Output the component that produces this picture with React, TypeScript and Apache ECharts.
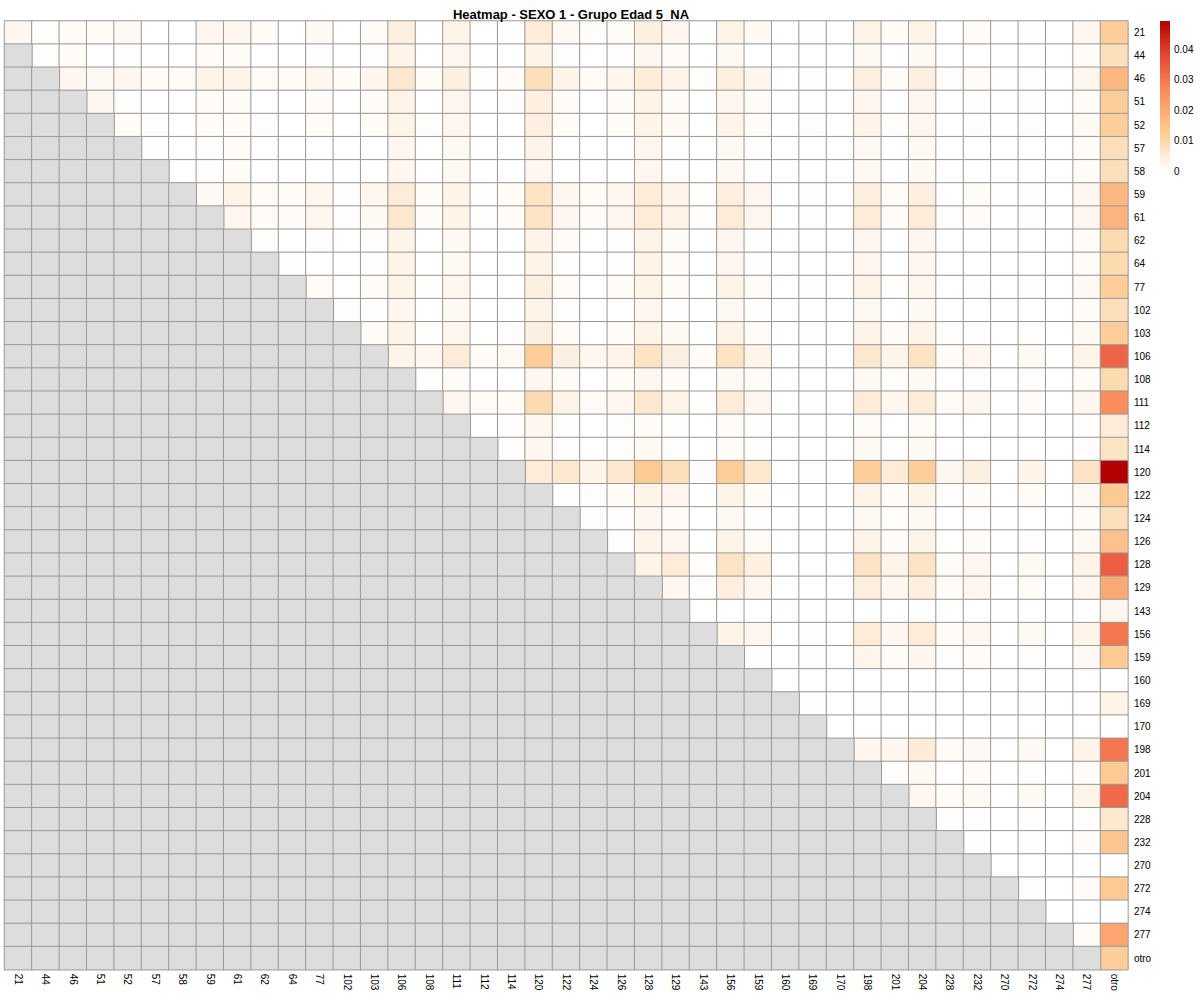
import React, { useEffect, useRef } from "react";
import * as echarts from "echarts";

const titleText = "Heatmap - SEXO 1 - Grupo Edad 5_NA";

const categories = [
  "21", "44", "46", "51", "52", "57", "58", "59", "61", "62",
  "64", "77", "102", "103", "106", "108", "111", "112", "114", "120",
  "122", "124", "126", "128", "129", "143", "156", "159", "160", "169",
  "170", "198", "201", "204", "228", "232", "270", "272", "274", "277",
  "otro",
];

// Upper triangle (diagonal included): row i lists columns i..40
const rowValues: number[][] = [
  [0.002, 0.0005, 0.001, 0.001, 0.0015, 0, 0, 0.002, 0.002, 0.001,
   0, 0.0015, 0, 0.001, 0.004, 0, 0.003, 0, 0, 0.005,
   0.0015, 0.0005, 0.001, 0.004, 0.002, 0, 0.003, 0.0015, 0, 0.0005,
   0, 0.003, 0.001, 0.003, 0, 0.001, 0, 0.0005, 0, 0.002,
   0.012],
  [0.0005, 0.001, 0, 0.0005, 0, 0, 0.001, 0.001, 0, 0,
   0.0005, 0, 0.0005, 0.003, 0, 0.002, 0, 0, 0.003, 0.0005,
   0, 0.0005, 0.002, 0.001, 0, 0.0015, 0, 0, 0, 0,
   0.0015, 0, 0.0015, 0, 0, 0, 0, 0, 0.001, 0.008],
  [0.002, 0.0015, 0.002, 0.001, 0.001, 0.003, 0.003, 0.001, 0.001,
   0.002, 0.001, 0.002, 0.006, 0.001, 0.004, 0.0005, 0.001, 0.008, 0.003,
   0.001, 0.002, 0.005, 0.003, 0.0005, 0.004, 0.002, 0, 0.0005, 0,
   0.004, 0.001, 0.004, 0.0005, 0.001, 0, 0.0005, 0, 0.002, 0.017],
  [0.002, 0.0005, 0, 0, 0.001, 0.001, 0, 0,
   0.001, 0, 0.001, 0.003, 0, 0.002, 0, 0.0005, 0.004, 0.001,
   0, 0.001, 0.003, 0.001, 0, 0.002, 0.001, 0, 0, 0,
   0.002, 0, 0.002, 0, 0.0005, 0, 0.0005, 0, 0.001, 0.012],
  [0.001, 0.0005, 0, 0.001, 0.001, 0.0005, 0,
   0.001, 0, 0.001, 0.003, 0.0005, 0.002, 0, 0, 0.004, 0.001,
   0, 0.001, 0.003, 0.0015, 0, 0.003, 0.001, 0, 0.0005, 0,
   0.003, 0.0005, 0.002, 0, 0.0005, 0, 0.0005, 0, 0.0015, 0.012],
  [0.0005, 0, 0.0005, 0.001, 0, 0,
   0, 0, 0, 0.002, 0, 0.0015, 0, 0, 0.003, 0,
   0, 0, 0.002, 0.0005, 0, 0.0015, 0.0005, 0, 0, 0,
   0.0015, 0, 0.0015, 0, 0, 0, 0, 0, 0.001, 0.008],
  [0, 0.0005, 0.001, 0, 0,
   0, 0, 0, 0.002, 0, 0.0015, 0, 0, 0.002, 0,
   0, 0, 0.002, 0.0005, 0, 0.0015, 0.0005, 0, 0, 0,
   0.0015, 0, 0.0015, 0, 0, 0, 0, 0, 0.001, 0.008],
  [0.0015, 0.003, 0.001, 0.001,
   0.002, 0.0005, 0.002, 0.005, 0.001, 0.003, 0.0005, 0.001, 0.007, 0.002,
   0.001, 0.002, 0.005, 0.003, 0.0005, 0.004, 0.002, 0, 0.0005, 0,
   0.004, 0.001, 0.004, 0, 0.001, 0, 0.0005, 0, 0.002, 0.017],
  [0.002, 0.001, 0.001,
   0.002, 0.0005, 0.0015, 0.006, 0.001, 0.003, 0.0005, 0.001, 0.007, 0.002,
   0.001, 0.002, 0.005, 0.003, 0.0005, 0.005, 0.002, 0, 0.0005, 0,
   0.005, 0.001, 0.005, 0.0005, 0.001, 0, 0.0005, 0, 0.002, 0.018],
  [0.0005, 0,
   0.0005, 0, 0.0005, 0.003, 0, 0.0015, 0, 0, 0.003, 0.001,
   0, 0.0005, 0.003, 0.001, 0, 0.002, 0.0005, 0, 0, 0,
   0.002, 0, 0.002, 0, 0, 0, 0, 0, 0.001, 0.009],
  [0.0005,
   0, 0, 0.0005, 0.003, 0, 0.0015, 0, 0, 0.003, 0.0005,
   0, 0.0005, 0.003, 0.001, 0, 0.002, 0.0005, 0, 0, 0,
   0.002, 0, 0.002, 0, 0, 0, 0, 0, 0.001, 0.009],
  [0.001, 0, 0.001, 0.003, 0.0005, 0.002, 0, 0, 0.004, 0.001,
   0, 0.001, 0.003, 0.001, 0, 0.003, 0.001, 0, 0.0005, 0,
   0.003, 0.0005, 0.002, 0, 0.0005, 0, 0.0005, 0, 0.0015, 0.012],
  [0.0005, 0.0005, 0.002, 0, 0.0015, 0, 0, 0.003, 0.0005,
   0, 0, 0.002, 0.0005, 0, 0.0015, 0.0005, 0, 0, 0,
   0.0015, 0, 0.0015, 0, 0, 0, 0, 0, 0.001, 0.008],
  [0.001, 0.003, 0.0005, 0.002, 0, 0.0005, 0.004, 0.001,
   0, 0.001, 0.003, 0.0015, 0, 0.003, 0.001, 0, 0.0005, 0,
   0.003, 0.001, 0.003, 0.0005, 0.0005, 0, 0.0005, 0, 0.0015, 0.012],
  [0.003, 0.002, 0.005, 0.001, 0.0015, 0.012, 0.004,
   0.002, 0.003, 0.007, 0.004, 0.001, 0.007, 0.003, 0, 0.0005, 0,
   0.006, 0.003, 0.007, 0.001, 0.002, 0, 0.0015, 0, 0.003, 0.033],
  [0.0005, 0.001, 0, 0, 0.002, 0.001,
   0, 0.001, 0.002, 0.001, 0, 0.0015, 0.001, 0, 0, 0,
   0.0015, 0.0005, 0.0015, 0, 0.0005, 0, 0.0005, 0, 0.001, 0.009],
  [0.002, 0.001, 0.001, 0.009, 0.003,
   0.001, 0.002, 0.006, 0.003, 0.0005, 0.005, 0.002, 0, 0.0005, 0,
   0.005, 0.002, 0.005, 0.001, 0.002, 0, 0.001, 0, 0.002, 0.026],
  [0, 0.0005, 0.002, 0.0005,
   0, 0.0005, 0.001, 0.0005, 0, 0.001, 0.0005, 0, 0, 0,
   0.001, 0, 0.001, 0, 0, 0, 0, 0, 0.0005, 0.005],
  [0.0005, 0.002, 0.0005,
   0, 0.0005, 0.0015, 0.0005, 0, 0.001, 0.0005, 0, 0, 0,
   0.0015, 0.0005, 0.0015, 0, 0, 0, 0, 0, 0.0005, 0.007],
  [0.005, 0.006,
   0.003, 0.006, 0.013, 0.008, 0.0005, 0.012, 0.006, 0, 0.0005, 0,
   0.012, 0.005, 0.012, 0.002, 0.004, 0, 0.003, 0, 0.007, 0.0494],
  [0.0005,
   0.0005, 0.001, 0.003, 0.002, 0, 0.003, 0.001, 0, 0, 0,
   0.003, 0.001, 0.003, 0.0005, 0.001, 0, 0.001, 0, 0.0015, 0.013],
  [0.0005, 0.0005, 0.002, 0.001, 0, 0.0015, 0.0005, 0, 0, 0,
   0.0015, 0.0005, 0.0015, 0, 0.0005, 0, 0, 0, 0.001, 0.008],
  [0.0005, 0.003, 0.002, 0, 0.003, 0.001, 0, 0, 0,
   0.003, 0.001, 0.003, 0, 0.001, 0, 0.0005, 0, 0.0015, 0.015],
  [0.003, 0.005, 0.0005, 0.007, 0.004, 0, 0.0005, 0,
   0.007, 0.003, 0.007, 0.001, 0.002, 0, 0.0015, 0, 0.003, 0.034],
  [0.002, 0.0005, 0.004, 0.002, 0, 0, 0,
   0.004, 0.002, 0.004, 0.001, 0.002, 0, 0.001, 0, 0.002, 0.02],
  [0, 0, 0, 0, 0, 0,
   0, 0, 0, 0, 0, 0, 0, 0, 0, 0.002],
  [0.003, 0.002, 0, 0.0005, 0,
   0.005, 0.002, 0.005, 0.001, 0.002, 0, 0.0015, 0, 0.003, 0.03],
  [0.0005, 0, 0.0005, 0,
   0.0025, 0.001, 0.002, 0.0005, 0.001, 0, 0.0005, 0, 0.0015, 0.013],
  [0, 0, 0,
   0, 0, 0, 0, 0, 0, 0, 0, 0, 0],
  [0.0003, 0,
   0.0005, 0, 0.0005, 0, 0, 0, 0.0003, 0, 0.0003, 0.003],
  [0,
   0, 0, 0, 0, 0, 0, 0, 0, 0, 0],
  [0.002, 0.002, 0.005, 0.001, 0.0015, 0, 0.0015, 0, 0.003, 0.03],
  [0.0005, 0.0015, 0, 0.001, 0, 0.0005, 0, 0.001, 0.013],
  [0.002, 0.001, 0.0015, 0, 0.0015, 0, 0.003, 0.032],
  [0.0005, 0.0005, 0, 0.0005, 0, 0.0005, 0.006],
  [0.0005, 0, 0.0005, 0, 0.001, 0.014],
  [0, 0, 0, 0, 0],
  [0.0005, 0, 0.001, 0.013],
  [0, 0, 0],
  [0.001, 0.021],
  [0.012],
];

const scaleMin = 0;
const scaleMax = 0.0494;
const colorStops = [
  "#FFFFFF", "#FEEAD4", "#FDD29E", "#FDBB84", "#FCA06C",
  "#F98656", "#EE6446", "#DF4632", "#CA2418", "#B30000",
];
const naColor = "#DDDDDD";
const legendTicks = [0, 0.01, 0.02, 0.03, 0.04];
const legendTickLabels = ["0", "0.01", "0.02", "0.03", "0.04"];

const FONT = "'Liberation Sans', Arial, Helvetica, sans-serif";

export default function App() {
  const ref = useRef<HTMLDivElement>(null);

  useEffect(() => {
    if (!ref.current) return;
    const chart = echarts.init(ref.current, null, { renderer: "svg" });
    const n = categories.length;
    const cells: number[][] = [];
    const grey: number[][] = [];
    for (let r = 0; r < n; r++) {
      for (let c = 0; c < n; c++) {
        if (c < r) grey.push([c, r, 0]);
        else {
          const v = rowValues[r] ? rowValues[r][c - r] : 0;
          cells.push([c, r, v == null ? 0 : v]);
        }
      }
    }

    const barX = 1160;
    const barY = 21;
    const barW = 10;
    const barH = 150;

    const graphics: any[] = [
      {
        type: "rect",
        shape: { x: barX, y: barY, width: barW, height: barH },
        style: {
          fill: {
            type: "linear",
            x: 0, y: 1, x2: 0, y2: 0,
            colorStops: colorStops.map((c, i) => ({ offset: i / (colorStops.length - 1), color: c })),
          },
        },
        silent: true,
      },
      ...legendTicks.map((t, i) => ({
        type: "text",
        x: barX + barW + 4,
        y: barY + barH * (1 - (t - scaleMin) / (scaleMax - scaleMin)),
        style: {
          text: legendTickLabels[i],
          fontSize: 10,
          fontFamily: FONT,
          fill: "#000",
          verticalAlign: "middle",
          align: "left",
        },
        silent: true,
      })),
    ];

    chart.setOption({
      animation: false,
      backgroundColor: "#ffffff",
      title: {
        text: titleText,
        left: 566,
        top: 3,
        textAlign: "center",
        textStyle: { fontSize: 13, fontWeight: "bold", color: "#000", fontFamily: FONT },
      },
      grid: { left: 4.5, top: 21, width: 1123.4, height: 948.7, containLabel: false },
      xAxis: {
        type: "category",
        data: categories,
        position: "bottom",
        axisLine: { show: false },
        axisTick: { show: false },
        splitLine: { show: false },
        axisLabel: { rotate: -90, interval: 0, fontSize: 10, color: "#000", fontFamily: FONT, margin: 4 },
      },
      yAxis: {
        type: "category",
        data: categories,
        inverse: true,
        position: "right",
        axisLine: { show: false },
        axisTick: { show: false },
        splitLine: { show: false },
        axisLabel: { interval: 0, fontSize: 10, color: "#000", fontFamily: FONT, margin: 6 },
      },
      visualMap: [
        {
          show: false,
          type: "continuous",
          seriesIndex: 0,
          dimension: 2,
          min: scaleMin,
          max: scaleMax,
          inRange: { color: colorStops },
        },
        {
          show: false,
          type: "continuous",
          seriesIndex: 1,
          dimension: 2,
          min: 0,
          max: 1,
          inRange: { color: [naColor, naColor] },
        },
      ],
      graphic: graphics,
      series: [
        {
          type: "heatmap",
          data: cells,
          itemStyle: { borderColor: "#999999", borderWidth: 1 },
          emphasis: { disabled: true },
          progressive: 0,
        },
        {
          type: "heatmap",
          data: grey,
          itemStyle: { borderColor: "#999999", borderWidth: 1 },
          emphasis: { disabled: true },
          progressive: 0,
        },
      ],
    });

    return () => chart.dispose();
  }, []);

  return (
    <div
      ref={ref}
      style={{ position: "absolute", left: 0, top: 0, width: 1200, height: 1000 }}
    />
  );
}
